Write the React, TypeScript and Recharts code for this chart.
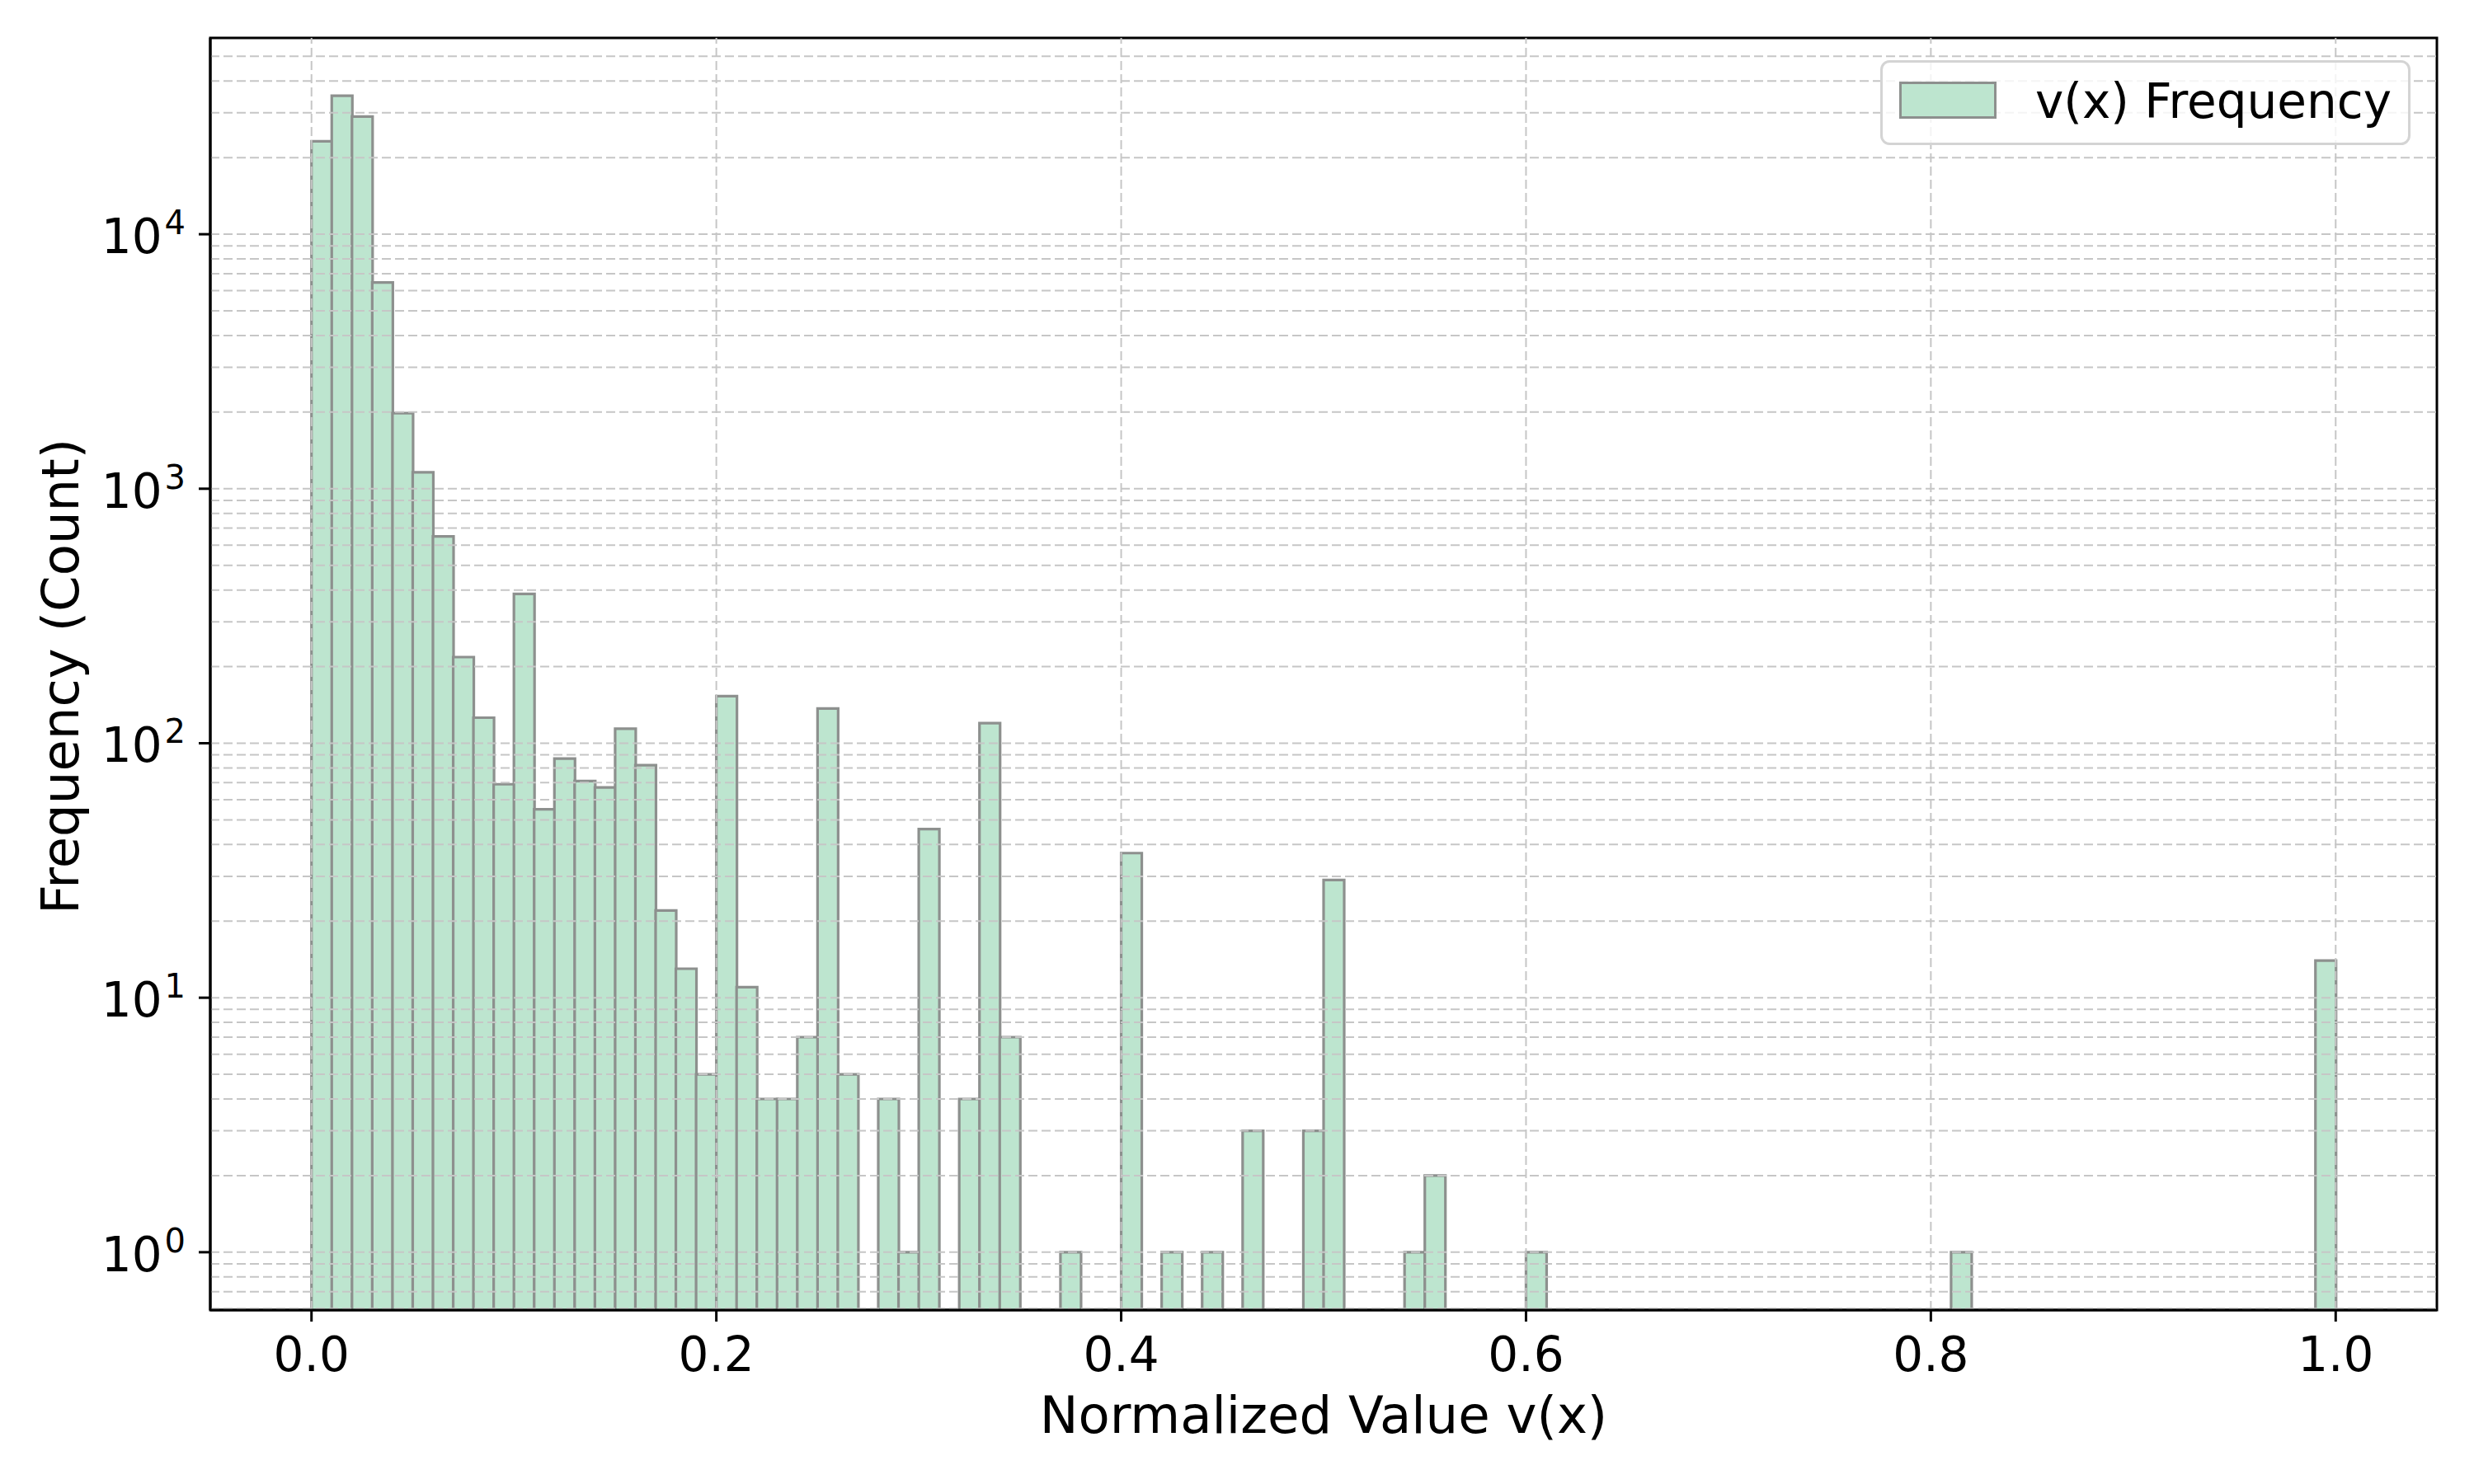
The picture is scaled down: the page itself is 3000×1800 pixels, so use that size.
import { BarChart, Bar, XAxis, YAxis, ReferenceLine, ReferenceArea, Legend } from "recharts";

const FONT = "'DejaVu Sans', sans-serif";
const FILL = "#bde5cf";
const EDGE = "#8d908e";
const GRID = "#c6c6c6";

// histogram: 100 bins of width 0.01 on [0, 1]
const BIN_WIDTH = 0.01;
const COUNTS = [
  23200, 35000, 29000, 6460, 1980, 1160, 650, 218, 126, 69,
  386, 55, 87, 71, 67, 114, 82, 22, 13, 5,
  153, 11, 4, 4, 7, 137, 5, 0, 4, 1,
  46, 0, 4, 120, 7, 0, 0, 1, 0, 0,
  37, 0, 1, 0, 1, 0, 3, 0, 0, 3,
  29, 0, 0, 0, 1, 2, 0, 0, 0, 0,
  1, 0, 0, 0, 0, 0, 0, 0, 0, 0,
  0, 0, 0, 0, 0, 0, 0, 0, 0, 0,
  0, 1, 0, 0, 0, 0, 0, 0, 0, 0,
  0, 0, 0, 0, 0, 0, 0, 0, 0, 14,
];

const X_DOMAIN = [-0.05, 1.05];
const X_TICKS = [0, 0.2, 0.4, 0.6, 0.8, 1.0];
const Y_DOMAIN = [0.5926, 59070];
const Y_MAJOR = [1, 10, 100, 1000, 10000];
const Y_MINOR = [
  0.6, 0.7, 0.8, 0.9,
  2, 3, 4, 5, 6, 7, 8, 9,
  20, 30, 40, 50, 60, 70, 80, 90,
  200, 300, 400, 500, 600, 700, 800, 900,
  2000, 3000, 4000, 5000, 6000, 7000, 8000, 9000,
  20000, 30000, 40000, 50000,
];

// empty bins can't be drawn on a log axis, so leave them out
const data = COUNTS.map((count, i) => ({ x: +((i + 0.5) * BIN_WIDTH).toFixed(4), count })).filter(
  (d) => d.count > 0
);

const LogTick = (props: any) => {
  const { x, y, payload } = props;
  const exp = Math.round(Math.log10(payload.value));
  return (
    <text x={x} y={y + 23} textAnchor="end" fontFamily={FONT} fontSize={58} fill="#000">
      10
      <tspan dx={3} dy={-23} fontSize={40}>
        {exp}
      </tspan>
    </text>
  );
};

const renderLegend = (props: any) => {
  const item = props.payload && props.payload[0];
  return (
    <svg width={643} height={103}>
      <rect x={1.5} y={1.5} width={640} height={100} rx={10} fill="#fff" fillOpacity={0.8} stroke="#d4d4d4" strokeWidth={3} />
      <rect x={24.5} y={27.5} width={115} height={42} fill={FILL} stroke={EDGE} strokeWidth={3} />
      <text x={188} y={70} fontFamily={FONT} fontSize={58} fill="#000">
        {item ? item.value : "v(x) Frequency"}
      </text>
    </svg>
  );
};

export default function App() {
  return (
    <div style={{ position: "absolute", left: 0, top: 0, width: 3000, height: 1800, background: "#fff" }}>
      <BarChart
        width={3000}
        height={1800}
        data={data}
        margin={{ top: 46, right: 45, bottom: 210, left: 253 }}
        barCategoryGap={0}
        barGap={0}
      >
        <XAxis
          dataKey="x"
          type="number"
          domain={X_DOMAIN}
          allowDataOverflow
          ticks={X_TICKS}
          interval={0}
          tickFormatter={(v: number) => v.toFixed(1)}
          height={1}
          tickSize={14}
          tickMargin={19}
          axisLine={{ stroke: "#000", strokeWidth: 3 }}
          tickLine={{ stroke: "#000", strokeWidth: 3 }}
          tick={{ fill: "#000", fontSize: 58, fontFamily: FONT }}
          label={{
            content: (p: any) => {
              const vb = p.viewBox || { x: 255, y: 1589, width: 2700 };
              return (
                <text
                  x={vb.x + vb.width / 2}
                  y={vb.y + 149}
                  textAnchor="middle"
                  fontFamily={FONT}
                  fontSize={62.5}
                  fill="#000"
                >
                  Normalized Value v(x)
                </text>
              );
            },
          }}
        />
        <YAxis
          scale="log"
          type="number"
          domain={Y_DOMAIN}
          allowDataOverflow
          ticks={Y_MAJOR}
          interval={0}
          width={1}
          tickSize={14}
          tickMargin={16}
          axisLine={{ stroke: "#000", strokeWidth: 3 }}
          tickLine={{ stroke: "#000", strokeWidth: 3 }}
          tick={<LogTick />}
          label={{
            content: (p: any) => {
              const vb = p.viewBox || { x: 254, y: 46, height: 1543 };
              const cx = 95;
              const cy = vb.y + vb.height / 2 + 3;
              return (
                <text
                  x={cx}
                  y={cy}
                  transform={`rotate(-90 ${cx} ${cy})`}
                  textAnchor="middle"
                  fontFamily={FONT}
                  fontSize={62.5}
                  fill="#000"
                >
                  Frequency (Count)
                </text>
              );
            },
          }}
        />
        <YAxis
          yAxisId="minor"
          scale="log"
          type="number"
          domain={Y_DOMAIN}
          allowDataOverflow
          ticks={Y_MINOR}
          interval={0}
          width={1}
          tickSize={8}
          axisLine={false}
          tickLine={{ stroke: "#000", strokeWidth: 2.5 }}
          tick={false}
        />
        <Bar
          dataKey="count"
          name="v(x) Frequency"
          fill={FILL}
          stroke={EDGE}
          strokeWidth={3.2}
          isAnimationActive={false}
        />
        {[...Y_MAJOR, ...Y_MINOR].map((v) => (
          <ReferenceLine key={`gy-${v}`} y={v} stroke={GRID} strokeWidth={2} strokeDasharray="11 5" />
        ))}
        {X_TICKS.map((v) => (
          <ReferenceLine key={`gx-${v}`} x={v} stroke={GRID} strokeWidth={2} strokeDasharray="11 5" />
        ))}
        <ReferenceArea
          x1={X_DOMAIN[0]}
          x2={X_DOMAIN[1]}
          y1={Y_DOMAIN[0]}
          y2={Y_DOMAIN[1]}
          fill="none"
          fillOpacity={0}
          stroke="#000"
          strokeWidth={3}
        />
        <Legend
          layout="horizontal"
          verticalAlign="middle"
          align="center"
          content={renderLegend}
          wrapperStyle={{ left: 2280, top: 73, width: 643, height: 103 }}
        />
      </BarChart>
    </div>
  );
}
